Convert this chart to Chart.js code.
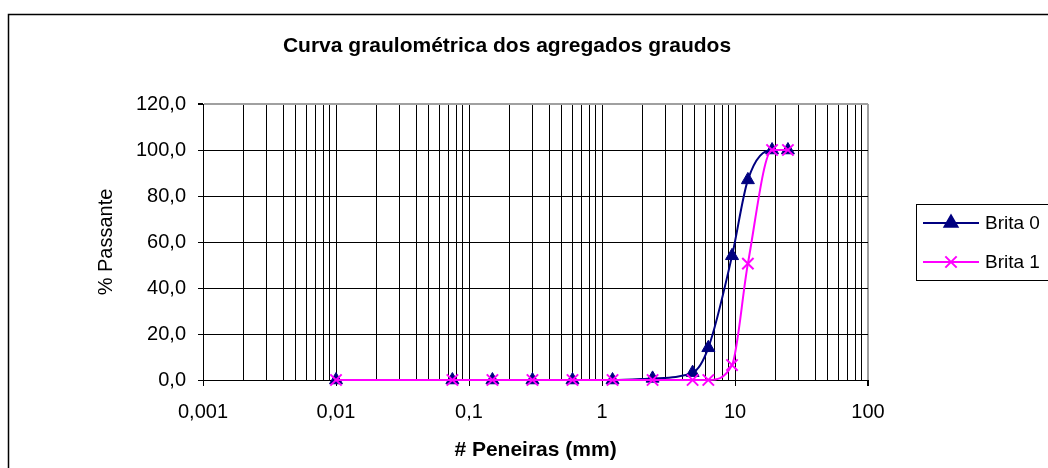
<!DOCTYPE html>
<html lang="pt-BR">
<head>
<meta charset="utf-8">
<title>Curva granulométrica</title>
<script src="https://cdn.jsdelivr.net/npm/chart.js@4.4.1/dist/chart.umd.min.js"></script>
<style>
  html, body { margin: 0; padding: 0; background: #fff; }
  #wrap { position: relative; width: 1048px; height: 468px; }
</style>
</head>
<body>
<div id="wrap"><canvas id="granChart"></canvas></div>
<script>
// abertura das peneiras (mm) e % passante de cada brita
const SIEVES_MM = [0.01, 0.075, 0.15, 0.3, 0.6, 1.2, 2.4, 4.8, 6.3, 9.5, 12.5, 19, 25];
const BRITA_0 = [0, 0, 0, 0, 0, 0, 0.7, 3.2, 14, 54, 87, 100, 100];
const BRITA_1 = [0, 0, 0, 0, 0, 0, 0, 0, 0, 6.5, 50.6, 100, 100];
const SERIES_NAMES = ['Brita 0', 'Brita 1'];

const X_DECADES = [0.001, 0.01, 0.1, 1, 10, 100];
const Y_TICKS = [0, 20, 40, 60, 80, 100, 120];

const TITLE = 'Curva graulométrica dos agregados graudos';
const X_TITLE = '# Peneiras (mm)';
const Y_TITLE = '% Passante';

const FONT = 'Arial, "Liberation Sans", sans-serif';

const near = (a, b) => Math.abs(a - b) <= Math.abs(b) * 1e-6;
const isDecade = (v) => X_DECADES.some((d) => near(v, d));
const comma = (s) => String(s).replace('.', ',');

function logTicks() {
  const out = [];
  X_DECADES.slice(0, -1).forEach((d) => {
    for (let k = 1; k <= 9; k++) out.push({ value: Number((d * k).toPrecision(6)) });
  });
  out.push({ value: X_DECADES[X_DECADES.length - 1] });
  return out;
}

// moldura, título e legenda no estilo do Excel
const framePlugin = {
  id: 'frame',
  afterDraw(chart) {
    const ctx = chart.ctx;
    ctx.save();
    ctx.strokeStyle = '#000';
    ctx.lineWidth = 1.5;
    ctx.strokeRect(8.5, 14.5, 1100, 500);

    ctx.fillStyle = '#000';
    ctx.font = `bold 21px ${FONT}`;
    ctx.textAlign = 'center';
    ctx.textBaseline = 'middle';
    ctx.fillText(TITLE, 507, 46);

    ctx.lineWidth = 1;
    ctx.strokeRect(916.5, 204.5, 200, 76);
    ctx.font = `19px ${FONT}`;
    ctx.textAlign = 'left';
    chart.data.datasets.forEach((ds, i) => {
      const y = 223 + i * 39;
      ctx.strokeStyle = ds.borderColor;
      ctx.lineWidth = ds.borderWidth;
      ctx.beginPath();
      ctx.moveTo(923, y);
      ctx.lineTo(979, y);
      ctx.stroke();
      ctx.fillStyle = ds.pointBackgroundColor;
      ctx.strokeStyle = ds.pointBorderColor;
      Chart.helpers.drawPoint(ctx, {
        pointStyle: ds.pointStyle,
        radius: ds.pointRadius,
        borderWidth: ds.pointBorderWidth,
        rotation: 0
      }, 951, y);
      ctx.fillStyle = '#000';
      ctx.fillText(ds.label, 985, y + 1);
    });
    ctx.restore();
  }
};

const toPoints = (ys) => SIEVES_MM.map((x, i) => ({ x, y: ys[i] }));

new Chart(document.getElementById('granChart'), {
  type: 'line',
  data: {
    datasets: [{
      label: SERIES_NAMES[0],
      data: toPoints(BRITA_0),
      borderColor: '#000080',
      borderWidth: 2,
      pointStyle: 'triangle',
      pointRadius: 7.5,
      pointBackgroundColor: '#000080',
      pointBorderColor: '#000080',
      pointBorderWidth: 1,
      cubicInterpolationMode: 'monotone',
      clip: false,
      order: 1
    }, {
      label: SERIES_NAMES[1],
      data: toPoints(BRITA_1),
      borderColor: '#ff00ff',
      borderWidth: 2,
      pointStyle: 'crossRot',
      pointRadius: 8,
      pointBackgroundColor: '#ff00ff',
      pointBorderColor: '#ff00ff',
      pointBorderWidth: 2,
      cubicInterpolationMode: 'monotone',
      clip: false,
      order: 0
    }]
  },
  options: {
    responsive: true,
    maintainAspectRatio: false,
    animation: false,
    layout: { padding: { left: 8, top: 104, right: 180, bottom: 0 } },
    plugins: {
      legend: { display: false },
      title: { display: false },
      tooltip: { enabled: false }
    },
    scales: {
      x: {
        type: 'logarithmic',
        min: X_DECADES[0],
        max: X_DECADES[X_DECADES.length - 1],
        afterBuildTicks: (s) => { s.ticks = logTicks(); },
        afterFit: (s) => { s.height = 88; },
        ticks: {
          autoSkip: false,
          maxRotation: 0,
          padding: 14,
          color: '#000',
          font: { family: FONT, size: 20 },
          callback: (v) => (isDecade(v) ? comma(v) : '')
        },
        grid: {
          color: (c) => (c.tick && near(c.tick.value, 100) ? '#a0a0a0' : '#000'),
          lineWidth: (c) => (c.tick && near(c.tick.value, 100) ? 2 : 1),
          tickColor: (c) => (c.tick && isDecade(c.tick.value) ? '#000' : 'rgba(0,0,0,0)'),
          tickLength: 6
        },
        border: { color: '#000', width: 1 },
        title: {
          display: true,
          text: X_TITLE,
          color: '#000',
          font: { family: FONT, size: 21, weight: 'bold' },
          padding: { top: 0, bottom: 5 }
        }
      },
      y: {
        min: 0,
        max: 120,
        afterBuildTicks: (s) => { s.ticks = Y_TICKS.map((value) => ({ value })); },
        afterFit: (s) => { s.width = 195; },
        ticks: {
          padding: 12,
          color: '#000',
          font: { family: FONT, size: 20 },
          callback: (v) => comma(Number(v).toFixed(1))
        },
        grid: {
          color: (c) => (c.tick && c.tick.value === 120 ? '#a0a0a0' : '#000'),
          lineWidth: (c) => (c.tick && c.tick.value === 120 ? 2 : 1),
          tickColor: '#000',
          tickLength: 5
        },
        border: { color: '#000', width: 1 },
        title: {
          display: true,
          text: Y_TITLE,
          color: '#000',
          font: { family: FONT, size: 20 },
          padding: { top: 86, bottom: 0 }
        }
      }
    }
  },
  plugins: [framePlugin]
});
</script>
</body>
</html>
